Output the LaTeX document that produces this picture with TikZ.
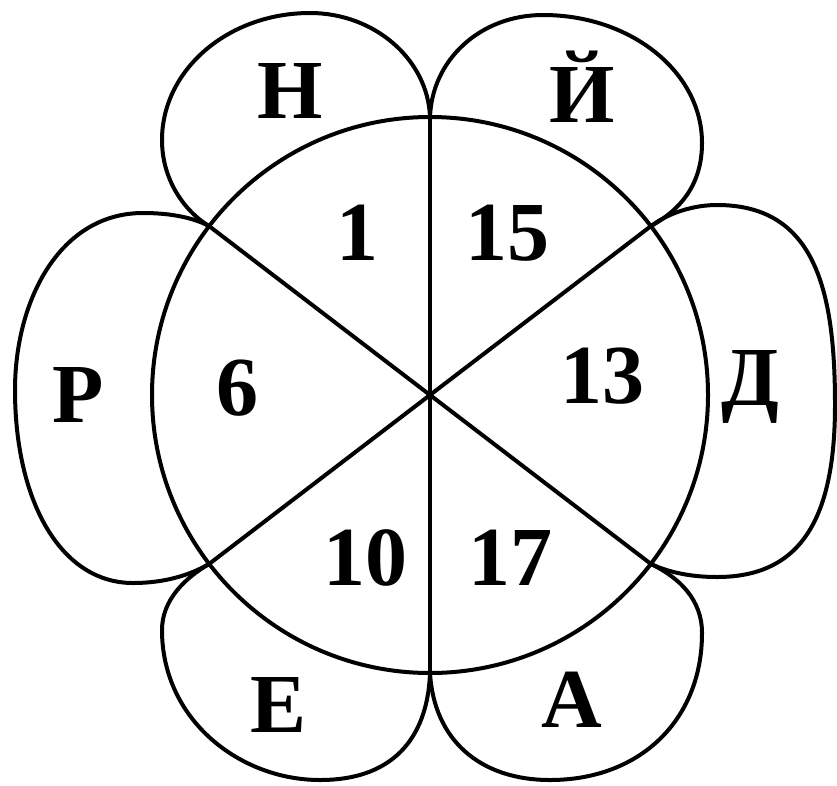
\documentclass[tikz,border=0pt]{standalone}
\usepackage{fontspec}
\setmainfont{Liberation Serif}
\begin{document}
\begin{tikzpicture}[x=1pt,y=-1pt,
  ln/.style={line width=4pt, line join=round, line cap=round},
  lbl/.style={anchor=base, inner sep=0pt, font=\fontsize{84}{84}\selectfont\bfseries}]
\useasboundingbox (0,0) rectangle (837,785);
% key points
\coordinate (C) at (430,395);
\coordinate (T) at (430,117);
\coordinate (B) at (430,673);
\coordinate (UL) at (209,226);
\coordinate (UR) at (651,226);
\coordinate (LR) at (651,564);
\coordinate (LL) at (209,564);
% circle and spokes
\draw[ln] (C) circle (278);
\draw[ln] (T) -- (B);
\draw[ln] (UL) -- (LR);
\draw[ln] (UR) -- (LL);
% petals
\draw[ln] (T) .. controls (428,60) and (375,13) .. (310,13)
  .. controls (228,13) and (162,70) .. (162,140)
  .. controls (162,185) and (190,215) .. (UL);
\draw[ln] (T) .. controls (432,60) and (480,15) .. (543,15)
  .. controls (631,15) and (702,72) .. (702,143)
  .. controls (702,185) and (680,210) .. (UR);
\draw[ln] (UR) .. controls (670,212) and (695,205) .. (717,205)
  .. controls (815,205) and (835,290) .. (835,405)
  .. controls (835,520) and (800,577) .. (717,577)
  .. controls (690,577) and (668,572) .. (LR);
\draw[ln] (UL) .. controls (190,216) and (165,213) .. (143,213)
  .. controls (60,213) and (15,300) .. (15,390)
  .. controls (15,500) and (60,583) .. (133,583)
  .. controls (165,583) and (190,575) .. (LL);
\draw[ln] (LL) .. controls (185,578) and (162,600) .. (162,630)
  .. controls (162,720) and (240,780) .. (320,780)
  .. controls (400,780) and (428,730) .. (B);
\draw[ln] (B) .. controls (434,740) and (480,780) .. (550,780)
  .. controls (640,780) and (702,720) .. (702,633)
  .. controls (702,600) and (680,578) .. (LR);
% letters
\node[lbl] (n) at (290,118) {Н};
\node[lbl] (j) at (582,122) {Й};
\node[lbl] (r) at (78,422) {Р};
\node[lbl] (d) at (750,405) {Д};
\node[lbl] (e) at (279,732) {Е};
\node[lbl] (a) at (572,727) {А};
% numbers
\node[lbl] (n1) at (357,260) {1};
\node[lbl] (n15) at (507,260) {15};
\node[lbl] (n6) at (237,415) {6};
\node[lbl] (n13) at (602,403) {13};
\node[lbl] (n10) at (365,585) {10};
\node[lbl] (n17) at (510,585) {17};
\end{tikzpicture}
\end{document}
